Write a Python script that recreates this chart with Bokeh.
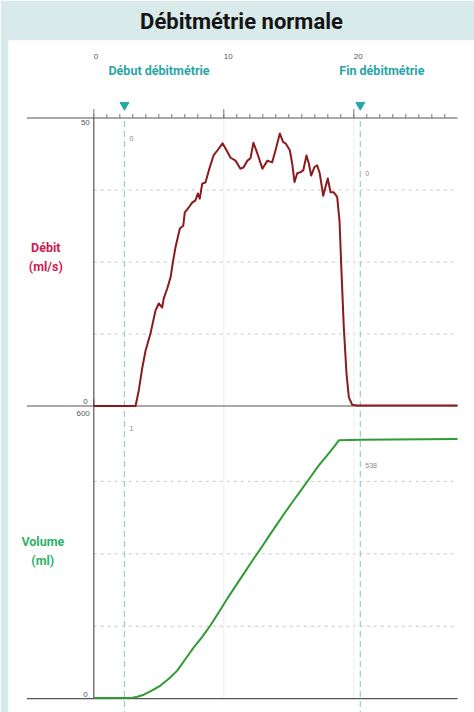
from bokeh.plotting import figure
from bokeh.models import Range1d
from bokeh.core.properties import value
from bokeh.embed import file_html
from bokeh.resources import INLINE

# ---------------- data ----------------
flow_t = [0.0, 3.21, 3.46, 3.72, 3.98, 4.36, 4.75, 5.0, 5.26, 5.38, 5.65, 5.9, 6.11, 6.28,
          6.62, 6.88, 7.0, 7.31, 7.57, 7.82, 8.0, 8.15, 8.34, 8.59, 8.85, 9.21, 9.52, 9.9,
          10.21, 10.52, 10.9, 11.28, 11.51, 11.82, 12.05, 12.28, 12.59, 12.97, 13.36, 13.72,
          13.98, 14.31, 14.57, 14.75, 15.08, 15.26, 15.44, 15.65, 15.9, 16.11, 16.36, 16.54,
          16.72, 16.98, 17.18, 17.38, 17.65, 17.82, 18.0, 18.21, 18.46, 18.72, 18.9, 19.05,
          19.23, 19.44, 19.62, 19.88, 20.26, 27.98]
flow_v = [0.0, 0.0, 2.7, 6.5, 9.6, 12.6, 16.6, 17.8, 17.1, 18.7, 20.4, 22.3, 25.3, 27.5,
          30.8, 31.3, 33.6, 34.5, 35.3, 35.7, 36.9, 36.0, 38.6, 38.8, 40.9, 43.5, 44.4, 45.6,
          44.4, 43.1, 42.6, 41.2, 41.4, 42.6, 43.0, 45.7, 43.8, 41.2, 42.6, 42.3,
          44.4, 47.3, 45.8, 45.6, 44.4, 42.1, 38.9, 40.4, 40.6, 40.9, 43.5, 42.1,
          40.0, 41.5, 41.8, 40.4, 36.5, 38.0, 39.5, 37.1, 37.1, 36.3, 32.2, 23.5,
          13.7, 5.6, 1.5, 0.2, 0.1, 0.1]

vol_t = [0.0, 2.82, 3.34, 3.85, 4.49, 5.13, 5.77, 6.42, 7.05, 7.69, 8.34, 8.98, 9.62,
         10.26, 10.90, 11.54, 12.18, 12.82, 13.46, 14.11, 14.75, 15.38, 16.03, 16.67,
         17.31, 17.95, 18.46, 18.85, 20.52, 27.98]
vol_v = [1, 1, 4, 8, 17, 27, 41, 58, 82, 106, 128, 152, 179, 207, 233, 259, 285, 310,
         336, 362, 387, 411, 435, 459, 483, 504, 521, 535, 536, 538]

x_major_ticks = [0, 10, 20]
x_major_labels = ["0", "10", "20"]
x_minor_ticks = list(range(0, 28))
flow_ticks = [50, 0]
flow_tick_labels = ["50", "0"]
vol_ticks = [600, 0]
vol_tick_labels = ["600", "0"]
flow_grid = [12.5, 25, 37.5]
vol_grid = [150, 300, 450]
time_grid = [10, 20]
marker_t = [2.36, 20.5]
marker_names = ["Début débitmétrie", "Fin débitmétrie"]
flow_readouts = ["0", "0"]
vol_readouts = ["1", "538"]

# ---------------- layout constants ----------------
W, H = 474, 712
FRAME_W, FRAME_H = 466, 672
PX_T = 13.0                 # px per second
ORIG_X = 85.3               # px from frame left to t = 0
PX_F = 5.76                 # px per ml/s
F0_Y = 365.5                # px from frame top to flow 0
PX_V = 0.4827               # px per ml
V0_Y = 658.1                # px from frame top to volume 0
T_LEFT, T_RIGHT = -5.14, 27.98
F_TOP = 50
V_TOP = 620

TEAL_BG = "#d8eaea"
TEAL = "#2aa5a5"
AXIS = "#555555"
COND = "Roboto"

x_start = -ORIG_X / PX_T
p = figure(width=W, height=H, output_backend="svg", toolbar_location=None,
           x_range=Range1d(x_start, x_start + FRAME_W / PX_T),
           y_range=Range1d(-(FRAME_H - F0_Y) / PX_F, F0_Y / PX_F),
           x_axis_location=None, y_axis_location=None,
           min_border_left=8, min_border_right=0, min_border_top=40, min_border_bottom=0,
           title="Débitmétrie normale")
p.extra_y_ranges = {"vol": Range1d(-(FRAME_H - V0_Y) / PX_V, V0_Y / PX_V)}
p.grid.visible = False
p.outline_line_color = None
p.background_fill_color = "white"
p.border_fill_color = TEAL_BG
p.title.align = "center"
p.title.offset = 7
p.title.text_font = "Roboto"
p.title.text_font_style = "bold"
p.title.text_font_size = "22px"
p.title.text_color = "#141414"
p.title.standoff = 13

# grid lines
n = len(flow_grid)
p.segment(x0=[0] * n, x1=[T_RIGHT] * n, y0=flow_grid, y1=flow_grid,
          line_color="#c9c9c9", line_dash="3 4", line_width=1)
n = len(vol_grid)
p.segment(x0=[0] * n, x1=[T_RIGHT] * n, y0=vol_grid, y1=vol_grid,
          line_color="#c9c9c9", line_dash="3 4", line_width=1, y_range_name="vol")
n = len(time_grid)
p.segment(x0=time_grid, x1=time_grid, y0=[F_TOP] * n, y1=[0] * n,
          line_color="#ededed", line_width=1)
p.segment(x0=time_grid, x1=time_grid, y0=[V_TOP] * n, y1=[0] * n,
          line_color="#ededed", line_width=1, y_range_name="vol")

# start / end marker lines
n = len(marker_t)
p.segment(x0=marker_t, x1=marker_t, y0=[F_TOP - 0.5] * n, y1=[p.y_range.start] * n,
          line_color="#94cccc", line_dash="6 4", line_width=1.2)

# axes lines
p.segment(x0=[T_LEFT] * 2, x1=[T_RIGHT] * 2, y0=[F_TOP, 0], y1=[F_TOP, 0],
          line_color=AXIS, line_width=1.2)
p.segment(x0=[T_LEFT], x1=[T_RIGHT], y0=[0], y1=[0], line_color=AXIS, line_width=1.2,
          y_range_name="vol")
p.segment(x0=[0], x1=[0], y0=[F_TOP], y1=[0], line_color=AXIS, line_width=1.2)
p.segment(x0=[0], x1=[0], y0=[V_TOP], y1=[0], line_color=AXIS, line_width=1.2,
          y_range_name="vol")

# top axis ticks
n = len(x_minor_ticks)
p.segment(x0=x_minor_ticks, x1=x_minor_ticks, y0=[F_TOP] * n, y1=[F_TOP + 4 / PX_F] * n,
          line_color="#777777", line_width=1)
n = len(x_major_ticks)
p.segment(x0=x_major_ticks, x1=x_major_ticks, y0=[F_TOP] * n, y1=[F_TOP + 9 / PX_F] * n,
          line_color="#777777", line_width=1)
p.text(x=x_major_ticks, y=[F_TOP] * n, text=x_major_labels, x_offset=0, y_offset=-62,
       text_align="left", text_baseline="middle", text_font=value("Liberation Sans"),
       text_font_size="8px", text_color="#555555")

# y tick labels
p.text(x=[0, 0], y=flow_ticks, text=flow_tick_labels, x_offset=[-4, -6], y_offset=[4, -5],
       text_align="right", text_baseline="middle", text_font=value("Liberation Sans"),
       text_font_size="8px", text_color="#555555")
p.text(x=[0, 0], y=vol_ticks, text=vol_tick_labels, x_offset=[-4, -6], y_offset=[5, -4],
       text_align="right", text_baseline="middle", text_font=value("Liberation Sans"),
       text_font_size="8px", text_color="#555555", y_range_name="vol")

# y axis titles
p.text(x=[0], y=[25], text=["Débit\n(ml/s)"], x_offset=-48, y_offset=-5,
       text_align="center", text_baseline="middle", text_font=value(COND),
       text_font_style="bold", text_font_size="12.5px", text_color="#d01a4f",
       text_line_height=1.25)
p.text(x=[0], y=[300], text=["Volume\n(ml)"], x_offset=-51, y_offset=-3,
       text_align="center", text_baseline="middle", text_font=value(COND),
       text_font_style="bold", text_font_size="12.5px", text_color="#2db36a",
       text_line_height=1.25, y_range_name="vol")

# markers + labels
p.scatter(x=marker_t, y=[F_TOP + 13 / PX_F] * len(marker_t), marker="inverted_triangle",
          size=9, fill_color=TEAL, line_color=TEAL)
p.text(x=marker_t, y=[F_TOP] * len(marker_t), text=marker_names, x_offset=[-16, -21],
       y_offset=-48, text_align="left", text_baseline="middle", text_font=value(COND),
       text_font_style="bold", text_font_size="12.5px", text_color=TEAL)

# readouts
p.text(x=marker_t, y=[46.4, 40.4], text=flow_readouts, x_offset=5, text_align="left",
       text_baseline="middle", text_font=value("Liberation Sans"), text_font_size="7px",
       text_color="#888888")
p.text(x=marker_t, y=[560, 482], text=vol_readouts, x_offset=5, text_align="left",
       text_baseline="middle", text_font=value("Liberation Sans"), text_font_size="7px",
       text_color="#888888", y_range_name="vol")

# data curves
p.line(flow_t, flow_v, line_color="#8b1a1c", line_width=2, line_join="round")
p.line(vol_t, vol_v, line_color="#2f9b35", line_width=2, line_join="round",
       y_range_name="vol")

open("out.html", "w").write(file_html(p, INLINE))
